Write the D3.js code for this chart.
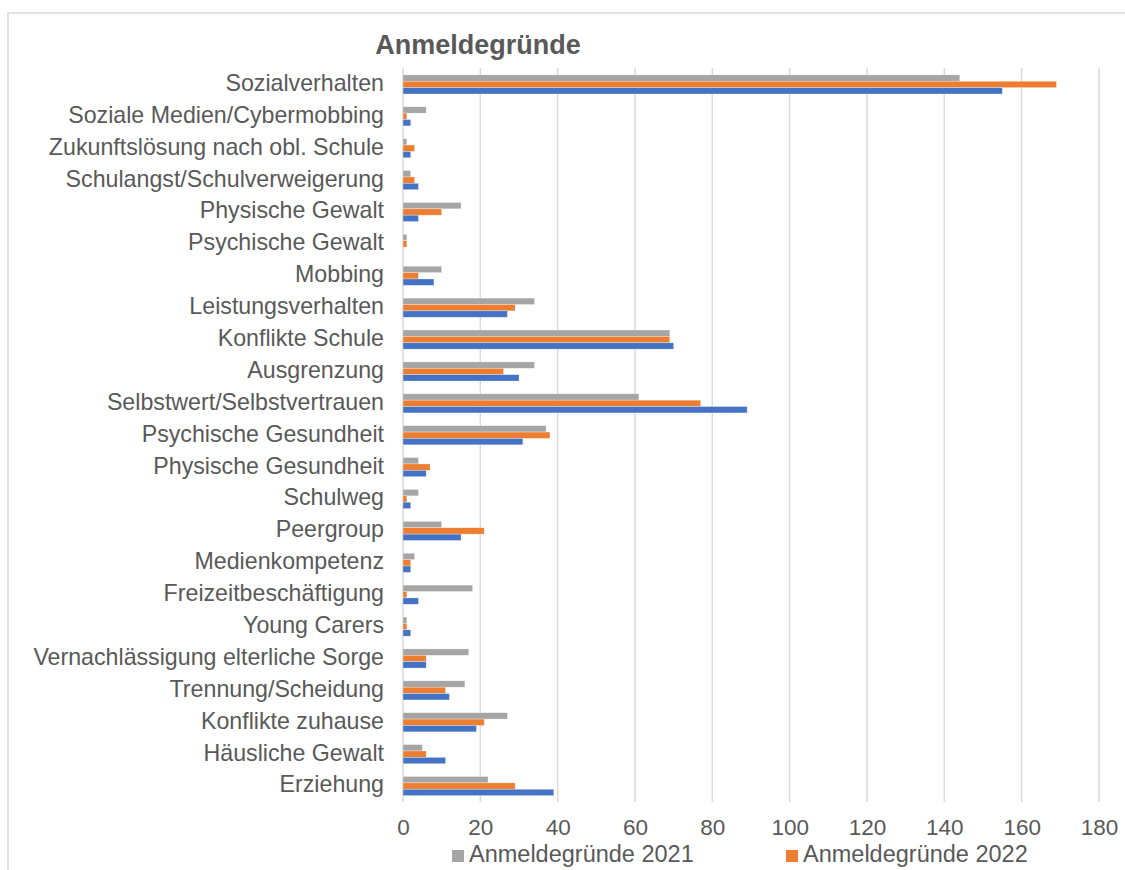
<!DOCTYPE html>
<html><head><meta charset="utf-8">
<script src="https://cdn.jsdelivr.net/npm/d3@7"></script>
<style>
body{margin:0;background:#fff;}
text{font-family:"Liberation Sans",Arial,sans-serif;fill:#595959;}
</style></head>
<body>
<svg id="c" width="1125" height="870"></svg>
<script>
const categories = ["Sozialverhalten","Soziale Medien/Cybermobbing","Zukunftslösung nach obl. Schule","Schulangst/Schulverweigerung","Physische Gewalt","Psychische Gewalt","Mobbing","Leistungsverhalten","Konflikte Schule","Ausgrenzung","Selbstwert/Selbstvertrauen","Psychische Gesundheit","Physische Gesundheit","Schulweg","Peergroup","Medienkompetenz","Freizeitbeschäftigung","Young Carers","Vernachlässigung elterliche Sorge","Trennung/Scheidung","Konflikte zuhause","Häusliche Gewalt","Erziehung"];
const values2021 = [144,6,1,2,15,1,10,34,69,34,61,37,4,4,10,3,18,1,17,16,27,5,22];
const values2022 = [169,1,3,3,10,1,4,29,69,26,77,38,7,1,21,2,1,1,6,11,21,6,29];
const values2023 = [155,2,2,4,4,0,8,27,70,30,89,31,6,2,15,2,4,2,6,12,19,11,39];
const seriesNames = ["Anmeldegründe 2021","Anmeldegründe 2022","Anmeldegründe 2023"];
const seriesColors = ["#A5A5A5","#ED7D31","#4472C4"];
const xTicks = [0,20,40,60,80,100,120,140,160,180];
const title = "Anmeldegründe";

const series = [values2021, values2022, values2023];
const svg = d3.select("#c");

// chart frame
svg.append("path").attr("d","M8,870 L8,13 L1125,13").attr("fill","none").attr("stroke","#d9d9d9").attr("stroke-width",1.5);

const x = d3.scaleLinear().domain([0,180]).range([403,1099]);
const y = d3.scaleBand().domain(categories).range([68.5,802]).paddingInner(0.4).paddingOuter(0.2);
const ySub = d3.scaleBand().domain(d3.range(series.length)).range([0,y.bandwidth()]);

// gridlines
svg.append("g").selectAll("line").data(xTicks).join("line")
  .attr("x1",d=>x(d)).attr("x2",d=>x(d)).attr("y1",68).attr("y2",802)
  .attr("stroke","#d9d9d9").attr("stroke-width",1.5);

// bars
series.forEach((vals,si)=>{
  svg.append("g").selectAll("rect").data(vals).join("rect")
    .attr("x",x(0))
    .attr("y",(d,i)=>y(categories[i])+ySub(si))
    .attr("width",d=>x(d)-x(0))
    .attr("height",ySub.bandwidth())
    .attr("fill",seriesColors[si])
    .attr("stroke", d=> d>0 ? "rgba(255,255,255,0.5)" : "none").attr("stroke-width",0.6);
});

// category labels
const yAxis = d3.axisLeft(y).tickSize(0).tickPadding(0);
const gy = svg.append("g").attr("transform","translate(384,-1)").call(yAxis);
gy.select(".domain").remove();
gy.attr("font-family",null).attr("font-size",null);
gy.selectAll("text").style("font-size","23.2px").attr("fill","#595959");

// x tick labels
const xAxis = d3.axisBottom(x).tickValues(xTicks).tickSize(0).tickPadding(0);
const gx = svg.append("g").attr("transform","translate(0,819)").call(xAxis);
gx.select(".domain").remove();
gx.attr("font-family",null).attr("font-size",null);
gx.selectAll("text").style("font-size","22.5px").attr("fill","#595959").attr("dy","0.71em");

// title
svg.append("text").attr("x",478).attr("y",54).attr("text-anchor","middle")
  .style("font-size","27px").style("font-weight","bold").text(title);

// legend (third entry wraps out of view as in the original)
const legendX = [452, 786];
legendX.forEach((lx,i)=>{
  svg.append("rect").attr("x",lx).attr("y",850).attr("width",12).attr("height",12).attr("fill",seriesColors[i]);
  svg.append("text").attr("x",lx+17).attr("y",862).style("font-size","23.5px").text(seriesNames[i]);
});
</script>
</body></html>
